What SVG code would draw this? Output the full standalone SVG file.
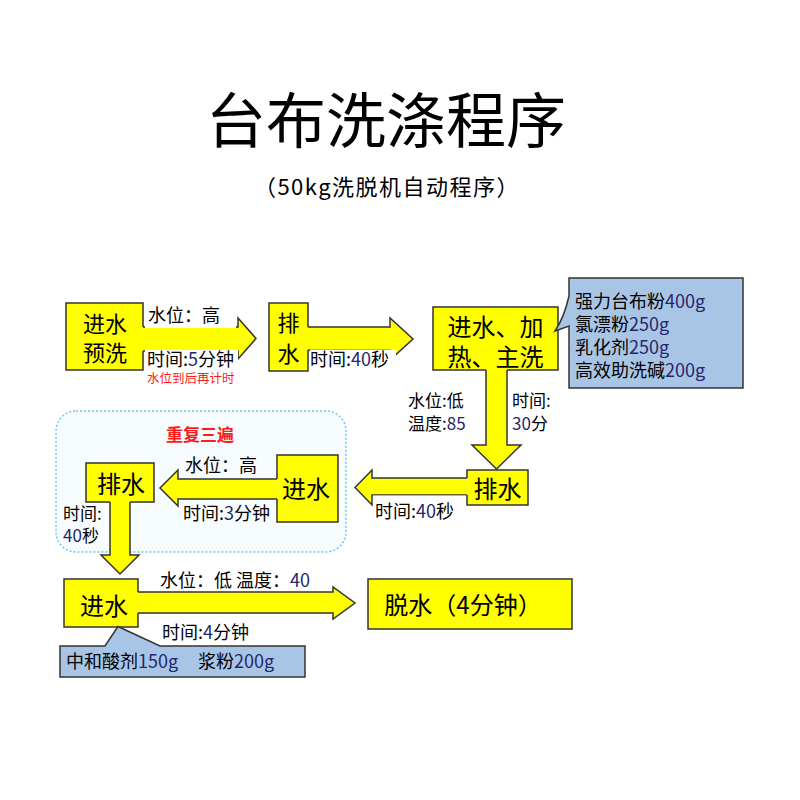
<svg xmlns="http://www.w3.org/2000/svg" width="800" height="800" viewBox="0 0 800 800">
<style>
text{font-family:"Noto Sans CJK SC","Liberation Sans",sans-serif;fill:#000}
.box{fill:#ffff00;stroke:none}
.bd{fill:none;stroke:#333;stroke-width:1.5}
.arr{fill:#ffff00;stroke:#333;stroke-width:1.5;stroke-linejoin:miter}
.call{fill:#a9c5e6;stroke:#333;stroke-width:1.5;stroke-linejoin:miter}
.wb{fill:#fff;stroke:none}
.lb{font-size:18px}
.lb2{font-size:17px}
.bt{font-size:22px}
.n{fill:#26266e}
.red{fill:#ff1a1a}
</style>
<rect width="800" height="800" fill="#fff"/>
<text x="386" y="143" font-size="60" text-anchor="middle">台布洗涤程序</text>
<text x="387" y="195" font-size="22" letter-spacing="1.5" text-anchor="middle">（50kg洗脱机自动程序）</text>

<g id="repeat-group">
<rect x="56" y="411" width="290" height="141" rx="20" fill="#f7fcff" stroke="#6cc8ee" stroke-width="1.5" stroke-dasharray="2 2"/>
<text x="200" y="441" font-size="17" font-weight="bold" class="red" text-anchor="middle">重复三遍</text>
</g>

<g id="connectors">
<path class="arr" d="M140,327 H238 V318 L256,338.5 L238,359 V351 H140 Z"/>
<path class="arr" d="M305,327 H390 V318 L413,339 L390,360 V350 H305 Z"/>
<path class="arr" d="M486,367 V445 H472 L496.5,469 L521,445 H507 V367 Z"/>
<path class="arr" d="M470,478 H372 V470 L355,487.5 L372,505 V495 H470 Z"/>
<path class="arr" d="M280,479 H178 V470 L160,488 L178,506 V499 H280 Z"/>
<path class="arr" d="M110,499 V555 H101 L120,574 L139,555 H130 V499 Z"/>
<path class="arr" d="M135,592 H333 V587 L355,603 L333,619 V613 H135 Z"/>
</g>

<g id="labels">
<rect class="wb" x="145" y="304" width="91" height="24"/>
<text class="lb" x="148" y="322">水位：高</text>
<rect class="wb" x="145" y="350" width="93" height="20"/>
<text class="lb" x="147" y="366">时间:<tspan class="n">5</tspan>分钟</text>
<text x="147" y="383" font-size="12.5" class="red">水位到后再计时</text>
<rect class="wb" x="310" y="349.5" width="86" height="21"/>
<text class="lb" x="310" y="366">时间:<tspan class="n">40</tspan>秒</text>
<text class="lb2" x="408" y="407">水位:低</text>
<text class="lb2" x="408" y="430">温度:<tspan class="n">85</tspan></text>
<text class="lb2" x="512" y="407">时间:</text>
<text class="lb2" x="512" y="430"><tspan class="n">30</tspan>分</text>
<rect class="wb" x="373" y="495.5" width="94" height="24"/>
<text class="lb" x="375" y="518">时间:<tspan class="n">40</tspan>秒</text>
<text class="lb" x="185" y="472">水位：高</text>
<text class="lb" x="183" y="520">时间:<tspan class="n">3</tspan>分钟</text>
<text class="lb2" x="63" y="520">时间:</text>
<text class="lb2" x="63" y="542"><tspan class="n">40</tspan>秒</text>
<text class="lb" x="160" y="587">水位：低 温度：<tspan class="n">40</tspan></text>
<text class="lb" x="162" y="639">时间:<tspan class="n">4</tspan>分钟</text>
</g>

<g id="node-prewash">
<rect class="box" x="66" y="303" width="77" height="67"/>
<path class="bd" d="M143,327 V303 H66 V370 H143 V351"/>
<text class="bt" x="105" y="332" text-anchor="middle">进水</text>
<text class="bt" x="105" y="361" text-anchor="middle">预洗</text>
</g>

<g id="node-drain1">
<rect class="box" x="269" y="303" width="39" height="68"/>
<path class="bd" d="M308,327 V303 H269 V371 H308 V350"/>
<text x="288.5" y="331" font-size="22" text-anchor="middle">排</text>
<text x="288.5" y="362" font-size="22" text-anchor="middle">水</text>
</g>

<g id="node-mainwash">
<rect class="box" x="433" y="307" width="125" height="63"/>
<path class="bd" d="M486,370 H433 V307 H558 V370 H507"/>
<text x="495.5" y="336" font-size="24" text-anchor="middle">进水、加</text>
<text x="495.5" y="366" font-size="24" text-anchor="middle">热、主洗</text>
</g>

<g id="callout-mainwash">
<path class="call" d="M569,278 H743 V388 H569 V326 L555,331 Q564,318 569,296 Z"/>
<text class="lb" x="575" y="308">强力台布粉<tspan class="n">400g</tspan></text>
<text class="lb" x="575" y="331">氯漂粉<tspan class="n">250g</tspan></text>
<text class="lb" x="575" y="354">乳化剂<tspan class="n">250g</tspan></text>
<text class="lb" x="575" y="377">高效助洗碱<tspan class="n">200g</tspan></text>
</g>

<g id="node-drain2">
<rect class="box" x="467" y="470" width="61" height="35"/>
<path class="bd" d="M467,478 V470 H528 V505 H467 V495"/>
<text x="497.5" y="498" font-size="24" text-anchor="middle">排水</text>
</g>

<g id="node-fill-repeat">
<rect class="box" x="277" y="455" width="61" height="67"/>
<path class="bd" d="M277,479 V455 H338 V522 H277 V499"/>
<text x="306" y="498" font-size="24" text-anchor="middle">进水</text>
</g>

<g id="node-drain-repeat">
<rect class="box" x="86" y="463" width="68" height="39"/>
<path class="bd" d="M110,502 H86 V463 H154 V502 H130"/>
<text x="121" y="493" font-size="24" text-anchor="middle">排水</text>
</g>

<g id="node-fill-final">
<rect class="box" x="64" y="579" width="74" height="48"/>
<path class="bd" d="M138,592 V579 H64 V627 H138 V613"/>
<text x="104" y="615" font-size="24" text-anchor="middle">进水</text>
</g>

<g id="callout-final">
<path class="call" d="M60,646 H105 L118,626.5 L160,646 H305 V677 H60 Z"/>
<text class="lb" x="66" y="668">中和酸剂<tspan class="n">150g</tspan><tspan x="198">浆粉</tspan><tspan class="n">200g</tspan></text>
</g>

<g id="node-spin">
<rect x="368" y="579" width="204" height="50" fill="#ffff00" stroke="#333" stroke-width="1.5"/>
<text x="463" y="614" font-size="24" text-anchor="middle">脱水（4分钟）</text>
</g>
</svg>
